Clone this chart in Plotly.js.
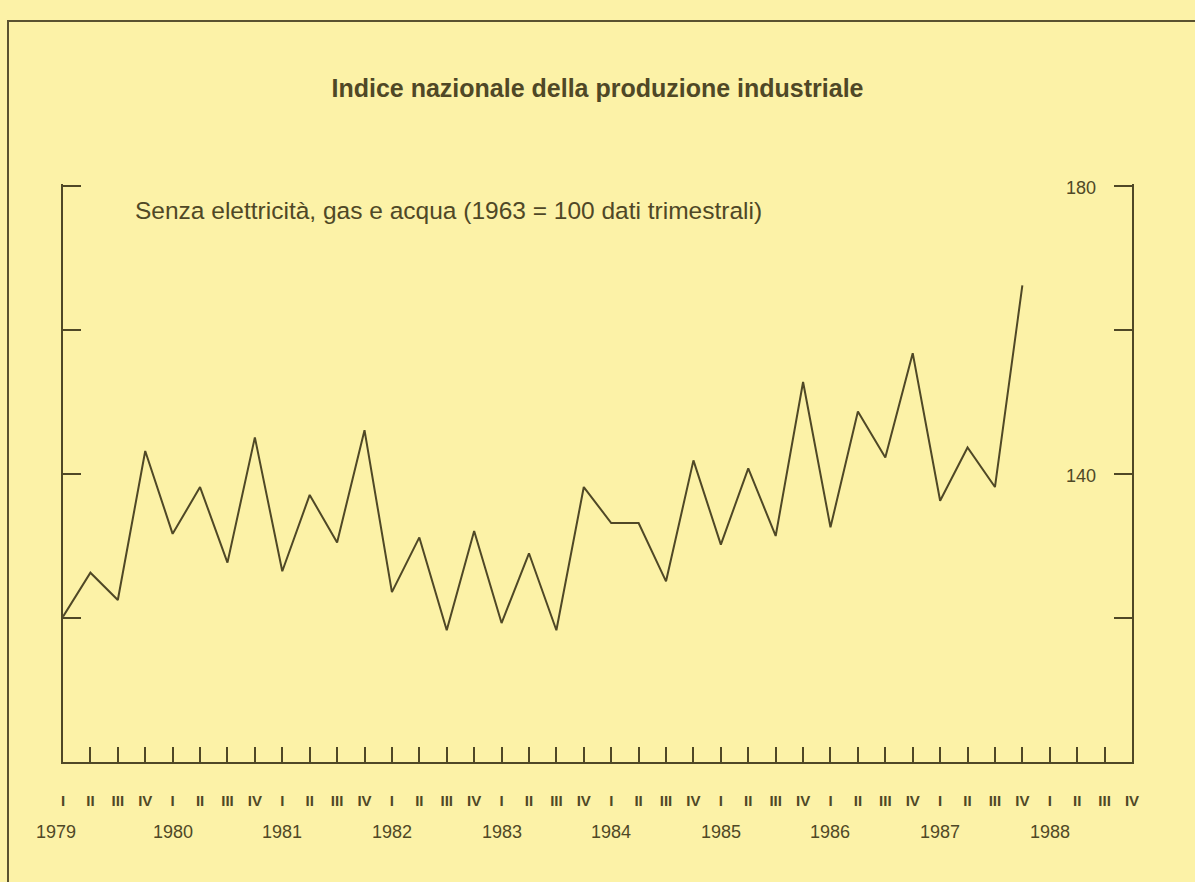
<!DOCTYPE html>
<html>
<head>
<meta charset="utf-8">
<script src="https://cdn.plot.ly/plotly-3.0.1.min.js"></script>
<style>
  html, body { margin: 0; padding: 0; background: #fcf2a7; }
  #frame { position: absolute; left: 7px; top: 20px; width: 1188px; height: 862px;
           border-left: 2px solid #5a5230; border-top: 2px solid #5a5230; }
  #myDiv { position: absolute; left: 0; top: 0; width: 1195px; height: 882px; }
</style>
</head>
<body>
<div id="frame"></div>
<div id="myDiv"></div>
<script>
// quarterly index, 1963 = 100, from 1979 I to 1987 IV
var quarters = ['I', 'II', 'III', 'IV'];
var years = ['1979', '1980', '1981', '1982', '1983', '1984', '1985', '1986', '1987', '1988'];
var index_values = [
    120.2, 126.3, 122.5, 143.2,   // 1979
    131.7, 138.2, 127.7, 145.1,   // 1980
    126.5, 137.1, 130.5, 146.1,   // 1981
    123.6, 131.2, 118.3, 132.1,   // 1982
    119.3, 129.0, 118.3, 138.2,   // 1983
    133.2, 133.2, 125.1, 141.9,   // 1984
    130.2, 140.8, 131.4, 152.8,   // 1985
    132.6, 148.7, 142.3, 156.8,   // 1986
    136.3, 143.7, 138.2, 166.2    // 1987
];
var y_ticks = [120, 140, 160, 180];
var right_labels = ['140', '180'];

var ink = '#4f4826';

var x_q = [];
for (var i = 0; i < index_values.length; i++) x_q.push(i);

var tick_vals = [];
var tick_text = [];
for (var y = 0; y < years.length; y++) {
    for (var q = 0; q < quarters.length; q++) {
        tick_vals.push(y * 4 + q);
        tick_text.push(quarters[q]);
    }
}

var trace1 = {
    x: x_q,
    y: index_values,
    mode: 'lines',
    line: { color: ink, width: 2 },
    hoverinfo: 'skip'
};

var annotations = [];
for (var k = 0; k < years.length; k++) {
    annotations.push({
        text: years[k],
        x: k * 4, xref: 'x',
        y: -0.121, yref: 'paper',
        xanchor: 'center', yanchor: 'middle',
        xshift: (k === 0 ? -7 : 0),
        showarrow: false,
        font: { family: 'Liberation Sans', size: 18, color: ink }
    });
}
// value labels of the right-hand scale sit inside the frame
for (var r = 0; r < right_labels.length; r++) {
    annotations.push({
        text: right_labels[r],
        x: 1, xref: 'paper',
        y: Number(right_labels[r]), yref: 'y',
        xanchor: 'right', yanchor: 'middle',
        xshift: -34, yshift: -2,
        showarrow: false,
        font: { family: 'Liberation Sans', size: 18, color: ink }
    });
}
annotations.push({
    text: 'Senza elettricità, gas e acqua (1963 = 100 dati trimestrali)',
    x: 0.0655, xref: 'paper',
    y: 0.955, yref: 'paper',
    xanchor: 'left', yanchor: 'middle',
    showarrow: false,
    font: { family: 'Liberation Sans', size: 24.5, color: ink }
});

var layout = {
    width: 1195,
    height: 882,
    paper_bgcolor: 'rgba(0,0,0,0)',
    plot_bgcolor: 'rgba(0,0,0,0)',
    showlegend: false,
    margin: { l: 63, r: 63, t: 184, b: 120 },
    title: {
        text: 'Indice nazionale della produzione industriale',
        x: 0.5, xanchor: 'center',
        y: 0.9, yref: 'container', yanchor: 'middle',
        font: { family: 'Liberation Sans', size: 25, color: ink, weight: 'bold' }
    },
    xaxis: {
        range: [0, 39],
        showgrid: false,
        zeroline: false,
        showline: true,
        linecolor: ink,
        linewidth: 2,
        ticks: 'inside',
        ticklen: 15,
        tickwidth: 2,
        tickcolor: ink,
        tickvals: tick_vals,
        ticktext: tick_text,
        ticklabelstandoff: 24,
        tickfont: { family: 'Liberation Sans Narrow, Liberation Sans', size: 15, color: ink, weight: 'bold' }
    },
    yaxis: {
        range: [100, 180.3],
        showgrid: false,
        zeroline: false,
        showline: true,
        mirror: 'ticks',
        linecolor: ink,
        linewidth: 2,
        ticks: 'inside',
        ticklen: 18,
        tickwidth: 2,
        tickcolor: ink,
        tickvals: y_ticks,
        showticklabels: false
    },
    annotations: annotations
};

Plotly.newPlot('myDiv', [trace1], layout, { displayModeBar: false, staticPlot: true });
</script>
</body>
</html>
